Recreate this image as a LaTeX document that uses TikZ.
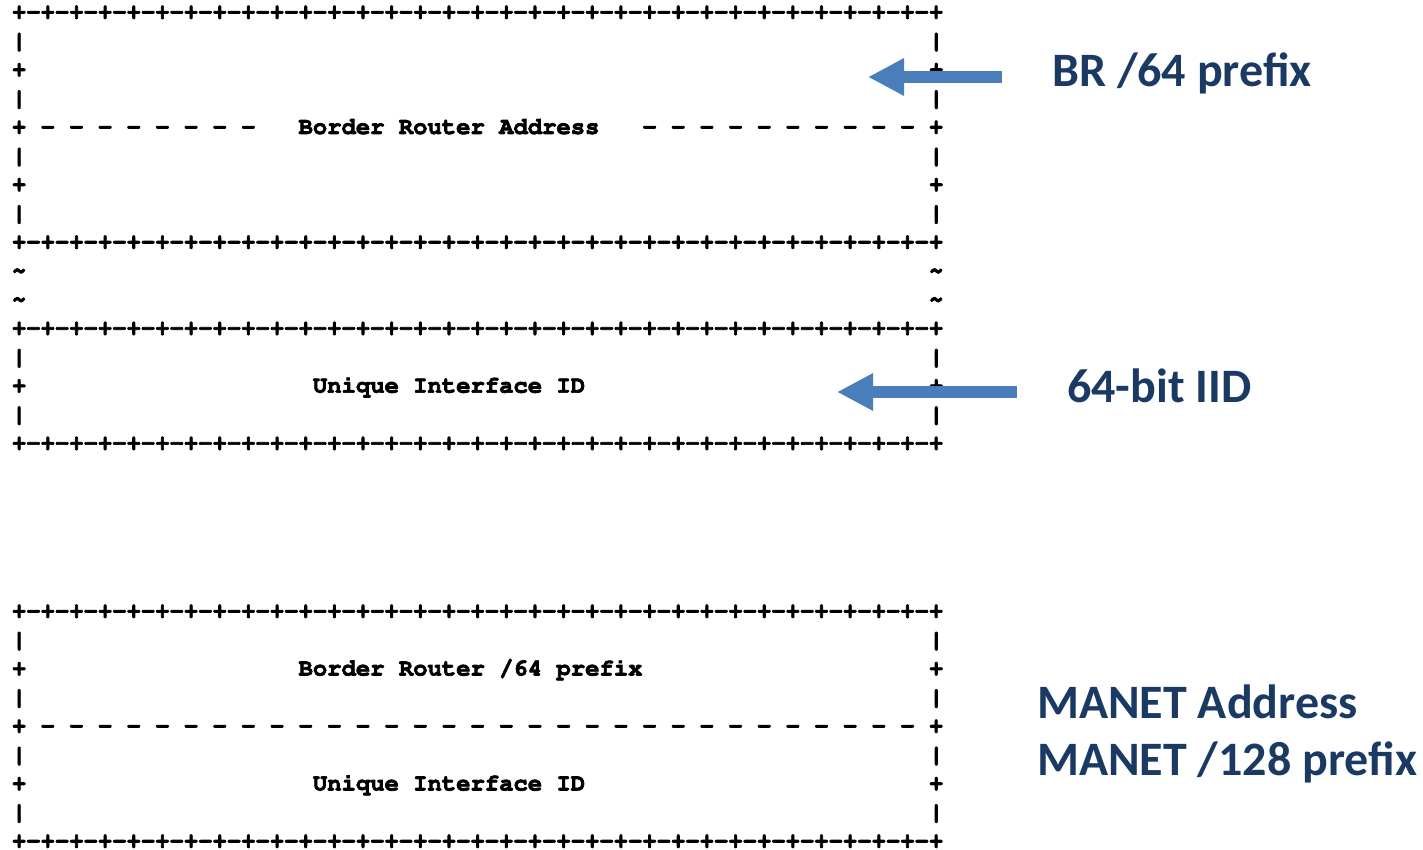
\documentclass[tikz,border=0pt]{standalone}
\usepackage[T1,TU]{fontenc}
\usepackage{fontspec}
\setmainfont{Carlito}
\usetikzlibrary{arrows.meta,positioning}

\definecolor{tagblue}{HTML}{1A3A63}
\definecolor{pointblue}{HTML}{4A7EBB}

\newlength\cw
\setlength\cw{14.33pt}
\newcommand\gap[1]{\hspace*{#1\cw}}
\newcommand\bits{+-+-+-+-+-+-+-+-+-+-+-+-+-+-+-+-+-+-+-+-+-+-+-+-+-+-+-+-+-+-+-+-+}
\newcommand\siderow[1]{#1\gap{63}#1}
\newcommand\brpfx{Border Router /64 prefix}

\tikzset{
  ascii/.style={anchor=base west, inner sep=0pt, text depth=0pt,
    font=\fontencoding{T1}\fontfamily{pcr}\fontseries{b}\fontsize{23.88}{28.74}\selectfont,
    execute at begin node={\special{pdf:literal direct 2 Tr 0.7 w}},
    execute at end node={\special{pdf:literal direct 0 Tr}}},
  tag/.style={anchor=base west, inner sep=0pt, text=tagblue,
    font=\bfseries\fontsize{48}{57}\selectfont},
  fat/.style={draw=pointblue, line width=11.5pt, -{Triangle[length=36pt,width=35pt]}},
}

\begin{document}
\begin{tikzpicture}[x=1pt,y=-1pt]
\useasboundingbox (0,0) rectangle (1423,850);

% upper layout, one node per text row
\foreach \row [count=\i from 0] in {\bits,{\siderow|},{\siderow+},{\siderow|},
    {+ - - - - - - - -\gap{3}Border Router Address\gap{3}- - - - - - - - - - +},
    {\siderow|},{\siderow+},{\siderow|},\bits,
    {\siderow\textasciitilde},{\siderow\textasciitilde},\bits,
    {\siderow|},{+\gap{20}Unique Interface ID\gap{24}+},{\siderow|},\bits}
  \node[ascii] (hdr\i) at (11.8,{19+28.74*\i}) {\row};

% lower layout
\foreach \row [count=\i from 0] in {\bits,{\siderow|},{+\gap{19}\brpfx\gap{20}+},{\siderow|},
    {+ - - - - - - - - - - - - - - - - - - - - - - - - - - - - - - - +},
    {\siderow|},{+\gap{20}Unique Interface ID\gap{24}+},{\siderow|},\bits}
  \node[ascii] (mnt\i) at (11.8,{618+28.74*\i}) {\row};

% labels
\node[tag] (brlbl) at (1052,87) {BR /64 prefix};
\node[tag] (iidlbl) at (1067,402) {64-bit IID};
\node[tag] (mnaddr) at (1037,718) {MANET Address};
\node[tag] (mnpfx) at ([yshift=-57pt]mnaddr.base west) {MANET /128 prefix};

% pointers
\coordinate (brtail) at (1002,77);
\coordinate (brtip) at (868,77);
\coordinate (iidtail) at (1017,392);
\coordinate (iidtip) at (837,392);
\draw[fat] (brtail) -- (brtip);
\draw[fat] (iidtail) -- (iidtip);
\end{tikzpicture}
\end{document}
